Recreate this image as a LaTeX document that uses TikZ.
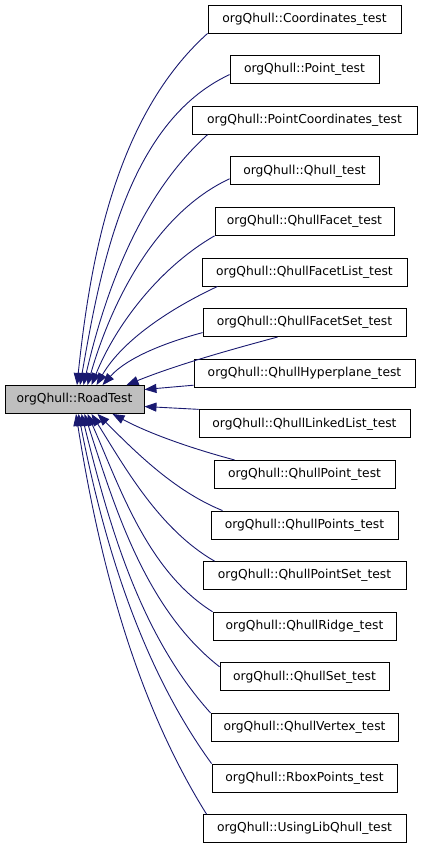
\documentclass[tikz,border=0pt]{standalone}
\usepackage{fontspec}
\setmainfont{DejaVu Sans}
\usepackage{tikz}
\usetikzlibrary{arrows.meta,positioning}
\definecolor{inhblue}{HTML}{191970}
\definecolor{rootgray}{HTML}{BFBFBF}
\tikzset{
  cls/.style={draw=black, fill=white, line width=0.9pt, minimum height=28pt, inner xsep=0pt, inner ysep=0pt, font=\fontsize{12.3}{14}\selectfont},
  root/.style={cls, fill=rootgray},
  inh/.style={draw=inhblue, line width=0.9pt, -{Triangle[length=12pt,width=9pt]}, fill=none, looseness=0.85},
}
\begin{document}
\begin{tikzpicture}[x=1pt,y=-1pt]
\useasboundingbox (0,0) rectangle (421,848);
\node[root, minimum width=139pt] (road) at (74.5,399.5) {orgQhull::RoadTest};
\foreach \n/\t/\w [count=\i from 0] in {
  coords/Coordinates/193, point/Point/149, pcoords/PointCoordinates/225,
  qhull/Qhull/149, facet/QhullFacet/179, facetlist/QhullFacetList/205,
  facetset/QhullFacetSet/203, hyper/QhullHyperplane/221, linked/QhullLinkedList/211,
  qpoint/QhullPoint/181, qpoints/QhullPoints/187, pointset/QhullPointSet/203,
  ridge/QhullRidge/183, set/QhullSet/169, vertex/QhullVertex/187,
  rbox/RboxPoints/185, usinglib/UsingLibQhull/203}
  \node[cls, minimum width=\w pt] (\n) at (304.5,19+50.6*\i) {orgQhull::\t\_test};
% edges into the top of the base class
\foreach \n/\a/\dx/\dy/\o/\e/\d in {
  coords/south west/0/0/222/84/2.5, point/west/0/5/205/80/5.5,
  pcoords/south west/16/0/222/77/9, qhull/west/0/8/205/74/13,
  facet/south west/0/0/210/68/17, facetlist/south west/16/0/205/60/22,
  facetset/west/0/10/195/48/28, facetset/south/-27/0/195/22/52}
  \draw[inh] ([shift={(\dx,\dy)}]\n.\a) to[out=\o,in=\e] ([xshift=\d pt]road.north);
\draw[inh] ([yshift=-12pt]hyper.west) -- ([yshift=10pt]road.east);
\draw[inh] (linked.north west) -- ([yshift=-7pt]road.east);
% edges into the bottom of the base class
\foreach \n/\a/\dx/\dy/\o/\e/\d in {
  qpoint/north/-70/0/165/-28/38, qpoints/north/-82/0/158/-45/23,
  pointset/north west/12/0/150/-58/17, ridge/north west/0/0/148/-66/13,
  set/west/0/-10/142/-72/10, vertex/north west/0/0/132/-76/7,
  rbox/north west/0/0/126/-79/4, usinglib/north west/4/0/122/-81/1.5}
  \draw[inh] ([shift={(\dx,\dy)}]\n.\a) to[out=\o,in=\e] ([xshift=\d pt]road.south);
\end{tikzpicture}
\end{document}
